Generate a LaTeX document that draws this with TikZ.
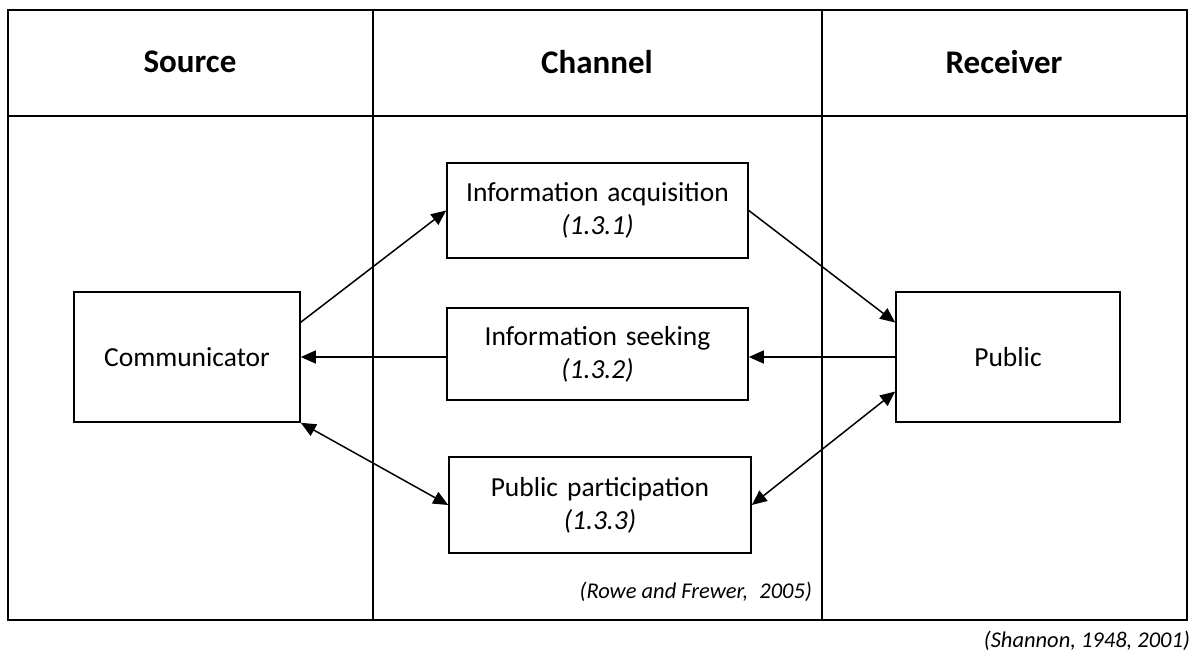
\documentclass[tikz,border=0pt]{standalone}
\usepackage{fontspec}
\setmainfont{Carlito}
\usetikzlibrary{arrows.meta}
\newcommand\stagefont{\fontsize{27.5}{33}\selectfont\spaceskip=9pt plus 2pt\relax}
\newcommand\citefont{\fontsize{22.5}{26}\selectfont\itshape}
\begin{document}
\begin{tikzpicture}[x=1pt,y=-1pt,
  frame/.style={line width=2pt},
  head/.style={font=\fontsize{33}{38}\selectfont\bfseries},
  stage/.style={draw,line width=1.6pt,inner sep=0pt,align=center,font=\stagefont},
  actor/.style={draw,line width=1.6pt,inner sep=0pt,align=center,
    font=\fontsize{27.5}{33}\selectfont},
  cite/.style={inner sep=0pt,font=\citefont},
  tip/.style={Triangle[length=15pt,width=13pt]},
  link/.style={line width=1.5pt,-{Triangle[length=15pt,width=13pt]}},
  both/.style={line width=1.5pt,{Triangle[length=15pt,width=13pt]}-{Triangle[length=15pt,width=13pt]}}]

\useasboundingbox (0,0) rectangle (1195,657);

% table frame with header row and three columns
\draw[frame] (8,10) rectangle (1187,620);
\draw[frame] (8,116) -- (1187,116);
\draw[frame] (373,10) -- (373,620);
\draw[frame] (822,10) -- (822,620);

\node[head] (hsrc) at (190,62) {Source};
\node[head] (hch) at (597,62) {Channel};
\node[head] (hrec) at (1004,62) {Receiver};

% actors
\node[actor,minimum width=226pt,minimum height=130pt] (comm) at (187,357) {Communicator};
\node[actor,minimum width=224pt,minimum height=130pt] (pub) at (1008,357) {Public};

% channel stages
\node[stage,minimum width=301pt,minimum height=95pt] (acq) at (597.5,210.5)
  {Information acquisition\\\textit{(1.3.1)}};
\node[stage,minimum width=301pt,minimum height=92pt] (seek) at (597.5,354)
  {Information seeking\\\textit{(1.3.2)}};
\node[stage,minimum width=302pt,minimum height=96pt] (part) at (600,505)
  {Public participation\\\textit{(1.3.3)}};

% sources
\node[cite,anchor=base east] (rowe) at (812,598) {(Rowe and Frewer,\hspace{6pt} 2005)};
\node[cite,anchor=base east] (shan) at (1190,647) {(Shannon, 1948, 2001)};

% flows
\draw[link] (comm.17) -- (acq.west);
\draw[link] (acq.east) -- (pub.163);
\draw[link] (pub.west) -- (pub.west -| seek.east);
\draw[link] (seek.west |- comm.east) -- (comm.east);
\draw[both] (comm.south east) -- (part.west);
\draw[both] (pub.197) -- (part.east);
\end{tikzpicture}
\end{document}
